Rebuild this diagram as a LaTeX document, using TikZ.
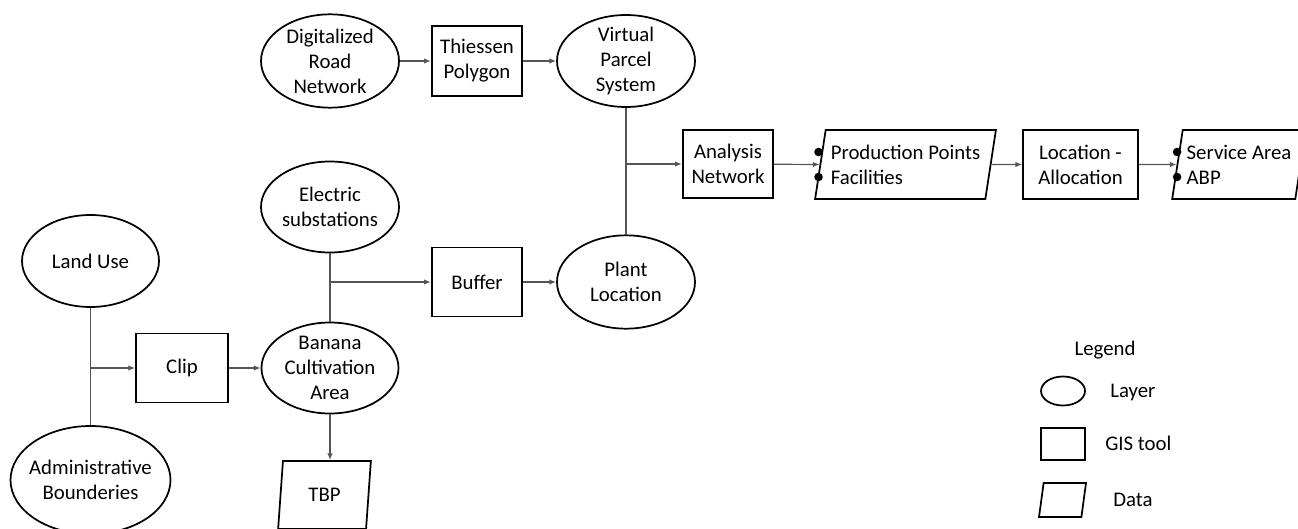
\documentclass[tikz,border=0pt]{standalone}
\usepackage{fontspec}
\setmainfont{Carlito}
\usepackage{tikz}
\usetikzlibrary{shapes.geometric}
\usetikzlibrary{arrows.meta}
\usetikzlibrary{calc}

\tikzset{
  layer/.style={draw, line width=1.3pt, ellipse, inner sep=-4pt, align=center},
  gistool/.style={draw, line width=1.3pt, rectangle, inner sep=1pt, align=center},
  dataset/.style={draw, line width=1.3pt, trapezium, trapezium stretches=true,
    trapezium left angle=76, trapezium right angle=104, inner sep=0pt, align=left},
  conn/.style={draw={rgb,255:red,85;green,85;blue,85}, line width=0.9pt},
  flow/.style={conn, -{Latex[length=5pt,width=4pt]}},
  bullet/.style={fill=black}
}

\begin{document}
\begin{tikzpicture}[x=0.75pt,y=0.75pt,yscale=-1,xscale=1,
  font=\fontsize{15.6pt}{18.8pt}\selectfont]
	\useasboundingbox (0,0) rectangle (1298,528);
	
	%Shape: Ellipse [road]
	\node [layer, minimum width=103.5pt, minimum height=70pt] (road) at (330,61) {Digitalized\\Road\\Network};
	%Shape: Rectangle [thiessen]
	\node [gistool, minimum width=68pt, minimum height=52.5pt] (thiessen) at (477,61) {Thiessen\\Polygon};
	%Shape: Ellipse [vps]
	\node [layer, minimum width=103.5pt, minimum height=69pt] (vps) at (626,61) {Virtual\\Parcel\\System};
	%Shape: Rectangle [analysis]
	\node [gistool, minimum width=68pt, minimum height=51pt] (analysis) at (728,164) {Analysis\\Network};
	%Shape: Parallelogram [pp]
	\node [dataset, minimum width=135.75pt, minimum height=51.75pt] (pp) at (905.5,164.5) {Production Points\\Facilities};
	%Shape: Rectangle [locall]
	\node [gistool, minimum width=86.25pt, minimum height=51.75pt] (locall) at (1080.5,164.5) {Location -\\Allocation};
	%Shape: Parallelogram [svc]
	\node [dataset, minimum width=100.5pt, minimum height=51.75pt] (svc) at (1239,164.5) {Service Area\\ABP};
	
	%Shape: Ellipse [elec]
	\node [layer, minimum width=103.5pt, minimum height=68.25pt] (elec) at (330,207) {Electric\\substations};
	%Shape: Rectangle [buffer]
	\node [gistool, minimum width=68pt, minimum height=51.75pt] (buffer) at (477,282) {Buffer};
	%Shape: Ellipse [plant]
	\node [layer, minimum width=103.5pt, minimum height=70pt] (plant) at (626,282) {Plant\\Location};
	
	%Shape: Ellipse [land]
	\node [layer, minimum width=102.75pt, minimum height=69pt] (land) at (90.5,261) {Land Use};
	%Shape: Rectangle [clip]
	\node [gistool, minimum width=69pt, minimum height=51.75pt] (clip) at (182,368) {Clip};
	%Shape: Ellipse [banana]
	\node [layer, minimum width=102.75pt, minimum height=68.25pt] (banana) at (330,368) {Banana\\Cultivation\\Area};
	%Shape: Parallelogram [tbp]
	\node [dataset, trapezium left angle=82, trapezium right angle=98, minimum width=69.75pt, minimum height=51pt, align=center] (tbp) at (324.5,495) {TBP};
	%Shape: Ellipse [admin]
	\node [layer, minimum width=120pt, minimum height=81pt] (admin) at (90.5,480) {Administrative\\Bounderies};
	
	%Junctions
	\coordinate (jland) at (land.south |- clip.west);
	\coordinate (jelec) at (elec.south |- buffer.west);
	\coordinate (jvps) at (vps.south |- analysis.west);
	
	%Straight Lines
	\draw [conn] (land) -- (admin);
	\draw [flow] (jland) -- (clip);
	\draw [flow] (clip) -- (banana);
	\draw [flow] (banana.south) -- (banana.south |- tbp.north);
	\draw [conn] (elec) -- (banana);
	\draw [flow] (jelec) -- (buffer);
	\draw [flow] (buffer) -- (plant);
	\draw [conn] (vps) -- (plant);
	\draw [flow] (road) -- (thiessen);
	\draw [flow] (thiessen) -- (vps);
	\draw [flow] (jvps) -- (analysis);
	\draw [flow] (analysis) -- (pp.west);
	\draw [flow] (pp.east) -- (locall.west);
	\draw [flow] (locall) -- (svc.west);
	
	%Bullets
	\fill [bullet] ($(pp.west)+(-1,-12.5)$) circle (3.2pt);
	\fill [bullet] ($(pp.west)+(-1,12.5)$) circle (3.2pt);
	\fill [bullet] ($(svc.west)+(0.5,-12.5)$) circle (3.2pt);
	\fill [bullet] ($(svc.west)+(0.5,12.5)$) circle (3.2pt);
	
	% Legend
	\node (legtitle) at (1105,350) {Legend};
	\node [layer, inner sep=1pt, minimum width=33pt, minimum height=21.75pt] (leglayer) at (1063,391) {};
	\node [anchor=west, inner sep=0pt] (leglayertxt) at (1110,392) {Layer};
	\node [gistool, inner sep=1pt, minimum width=33pt, minimum height=24pt] (legtool) at (1063,444) {};
	\node [anchor=west, inner sep=0pt] (legtooltxt) at (1105,443) {GIS tool};
	\node [dataset, inner sep=1pt, trapezium left angle=83, trapezium right angle=97, minimum width=35.25pt, minimum height=25.5pt] (legdata) at (1062.5,500) {};
	\node [anchor=west, inner sep=0pt] (legdatatxt) at (1113,500) {Data};
	
\end{tikzpicture}
\end{document}
